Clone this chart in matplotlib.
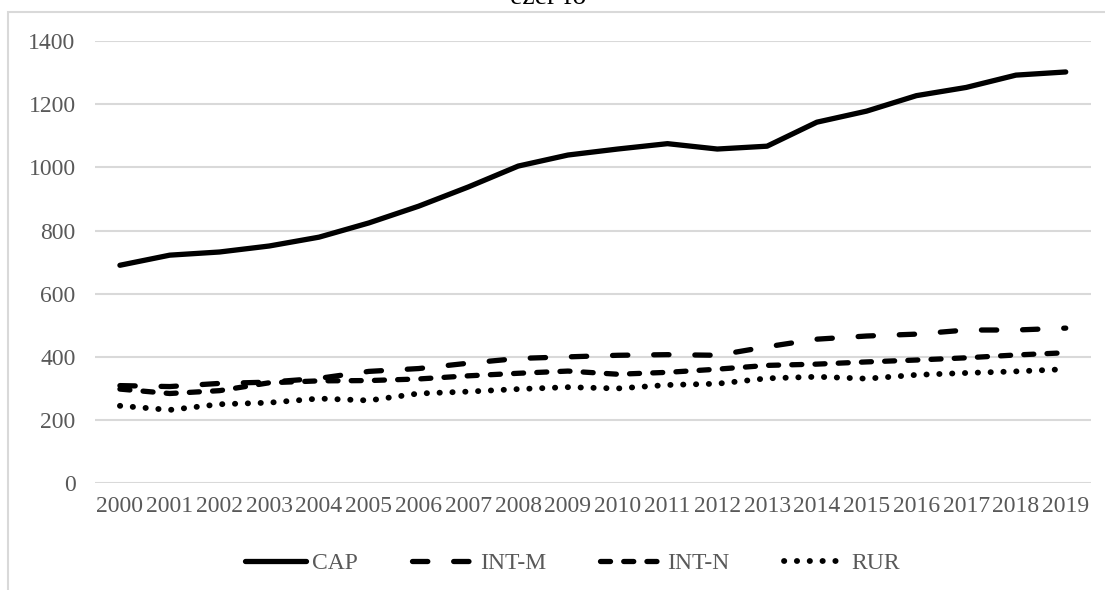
import matplotlib
matplotlib.use("Agg")
import matplotlib.pyplot as plt
from matplotlib.patches import Rectangle

plt.rcParams["font.family"] = ["Liberation Serif", "DejaVu Serif"]

years = [str(y) for y in range(2000, 2020)]
cap = [690, 722, 732, 751, 779, 824, 877, 938, 1004, 1039,
       1058, 1075, 1058, 1067, 1143, 1178, 1227, 1253, 1292, 1302]
int_m = [309, 306, 316, 320, 332, 354, 363, 380, 395, 400,
         405, 407, 405, 432, 456, 466, 472, 485, 485, 491]
int_n = [298, 284, 293, 318, 324, 325, 330, 340, 348, 355,
         345, 351, 361, 373, 377, 384, 390, 397, 406, 413]
rur = [245, 232, 250, 255, 268, 262, 284, 290, 298, 304,
       300, 311, 315, 332, 337, 331, 343, 349, 354, 361]

GRAY = "#595959"
GRID = "#d9d9d9"

fig = plt.figure(figsize=(11.05, 5.90), dpi=100)
ax = fig.add_axes([0.086, 0.181, 0.901, 0.7495])

x = range(len(years))
lw = 3.8
ax.plot(x, cap, color="black", lw=lw, solid_capstyle="round",
        solid_joinstyle="round", label="CAP")
ax.plot(x, int_m, color="black", lw=lw, dash_capstyle="round",
        linestyle=(0, (2.9, 4.9)), label="INT-M")
ax.plot(x, int_n, color="black", lw=lw, dash_capstyle="round",
        linestyle=(0, (1.9, 2.5)), label="INT-N")
ax.plot(x, rur, color="black", lw=4.2, dash_capstyle="round",
        linestyle=(0, (0.05, 2.15)), label="RUR")

ax.set_xlim(-0.5, len(years) - 0.5)
ax.set_ylim(0, 1400)
ax.set_yticks(range(0, 1401, 200))
ax.set_xticks(list(x))
ax.set_xticklabels(years)
ax.grid(axis="y", color=GRID, lw=1.5)
ax.set_axisbelow(True)
for s in ax.spines.values():
    s.set_visible(False)
ax.tick_params(length=0, labelsize=17, labelcolor=GRAY)
ax.tick_params(axis="y", pad=14)
ax.tick_params(axis="x", pad=9)

leg = fig.legend(loc="center", bbox_to_anchor=(0.518, 0.045), ncol=4,
                 frameon=False, fontsize=17, handlelength=2.6,
                 handletextpad=0.25, columnspacing=2.3)
for t in leg.get_texts():
    t.set_color(GRAY)

# chart-area border and clipped title
fig.patches.append(Rectangle((8 / 1105, -0.1), 1.2, 1.1 - 12 / 590,
                             transform=fig.transFigure, fill=False,
                             edgecolor=GRID, lw=1.5))
fig.text(0.496, 1 - 4 / 590, "ezer fő", ha="center", va="baseline",
         fontsize=20, color="black")

fig.savefig("out.png", dpi=100)
